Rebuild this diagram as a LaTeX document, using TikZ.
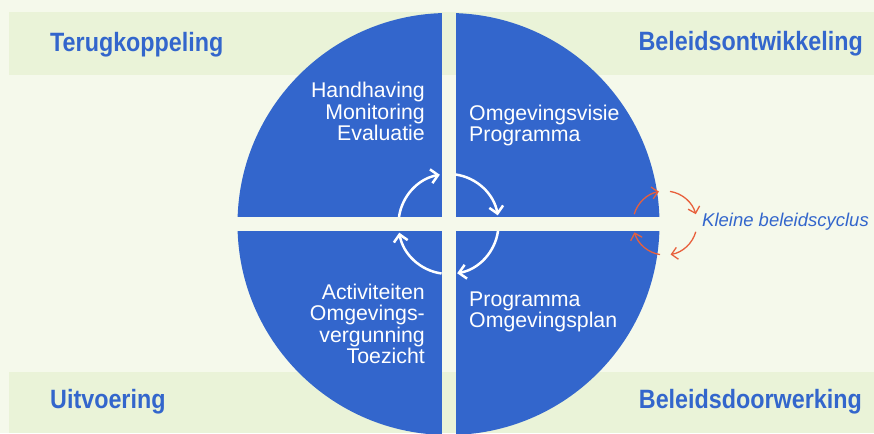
\documentclass[tikz,border=0pt]{standalone}
\usepackage{fontspec}
\setmainfont{Liberation Sans}
\newfontfamily\headfont{Liberation Sans}[FakeStretch=0.88]
\usetikzlibrary{arrows.meta}

\definecolor{bgpale}{HTML}{F5F9EB}
\definecolor{bandgreen}{HTML}{EAF3D8}
\definecolor{quadblue}{HTML}{3366CC}
\definecolor{cycleorange}{HTML}{E8603C}

\tikzset{
  heading/.style={font=\headfont\bfseries\fontsize{26.5}{30}\selectfont, text=quadblue, inner sep=0pt},
  quadtext/.style={font=\fontsize{21.3}{21.5}\selectfont, text=white, inner sep=0pt},
  bigcycle/.style={white, line width=2.5pt, -{Straight Barb[length=7pt,width=14pt]}},
  smallcycle/.style={cycleorange, line width=1.3pt, -{Straight Barb[length=6pt,width=12pt]}},
}

\begin{document}
\begin{tikzpicture}[x=1pt, y=1pt]
  \fill[bgpale] (0,0) rectangle (874,433);
  \useasboundingbox (0,0) rectangle (874,433);

  % bands
  \fill[bandgreen] (9,358) rectangle (874,421);
  \fill[bandgreen] (9,0) rectangle (874,61);

  % circle in four quadrants
  \coordinate (C) at (448.5,209);
  \begin{scope}
    \clip (C) circle[radius=211];
    \foreach \sx/\sy in {1/1, 1/-1, -1/1, -1/-1}
      \fill[quadblue] ([shift={(\sx*7,\sy*7)}]C) rectangle ++(\sx*215,\sy*215);
  \end{scope}

  % cycle in the middle
  \foreach \a in {180,90,0,-90}
    \draw[bigcycle] ([shift={(\a-8:50)}]C) arc[start angle=\a-8, end angle=\a-80, radius=50];

  % small cycle at the right
  \coordinate (O) at (665,210);
  \foreach \s/\e in {164/101, 81/16, -16/-80, -99/-163}
    \draw[smallcycle] ([shift={(\s:32)}]O) arc[start angle=\s, end angle=\e, radius=32];
  \node[anchor=base west, inner sep=0pt, text=quadblue,
        font=\itshape\fontsize{18.5}{20}\selectfont] (kleine) at (702,206) {Kleine beleidscyclus};

  % headings
  \node[heading, anchor=base west] (terug) at (50,381) {Terugkoppeling};
  \node[heading, anchor=base east] (ontw) at (863,382) {Beleidsontwikkeling};
  \node[heading, anchor=base west] (uitv) at (50,24) {Uitvoering};
  \node[heading, anchor=base east] (doorw) at (862,24) {Beleidsdoorwerking};

  % quadrant texts (anchored at the last line)
  \node[quadtext, anchor=base east, align=right] (hmv) at (425,292) {Handhaving\\Monitoring\\Evaluatie};
  \node[quadtext, anchor=base west, align=left] (visie) at (469,291) {Omgevingsvisie\\Programma};
  \node[quadtext, anchor=base east, align=right] (activ) at (425,69) {Activiteiten\\Omgevings-\\vergunning\\Toezicht};
  \node[quadtext, anchor=base west, align=left] (plan) at (469,105) {Programma\\Omgevingsplan};
\end{tikzpicture}
\end{document}
